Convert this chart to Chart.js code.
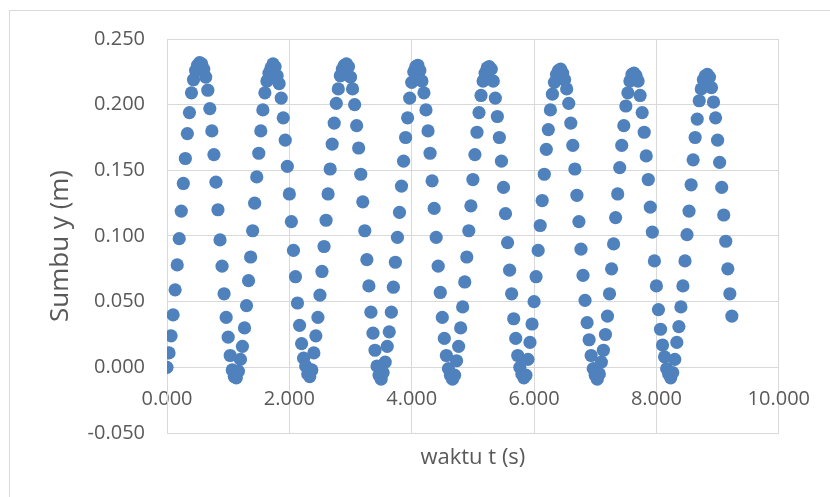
<!DOCTYPE html>
<html>
<head>
<meta charset="utf-8">
<script src="https://cdn.jsdelivr.net/npm/chart.js@4.4.1/dist/chart.umd.min.js"></script>
<style>
  html, body { margin: 0; padding: 0; background: #fff; overflow: hidden; }
  #wrap { position: relative; width: 830px; height: 497px; }
  #frame { position: absolute; left: 9px; top: 10px; width: 840px; height: 500px; border: 1px solid #d9d9d9; box-sizing: border-box; }
  #chart { position: absolute; left: 0; top: 0; }
</style>
</head>
<body>
<div id="wrap">
  <div id="frame"></div>
  <canvas id="chart" width="830" height="497"></canvas>
</div>
<script>
// waktu tiap frame (s)
const waktuT = [
  0.000, 0.033, 0.067, 0.100, 0.133, 0.167, 0.200, 0.233, 0.267, 0.300, 0.333, 0.367, 0.400, 0.433, 0.467, 0.500, 0.533, 0.567, 0.600, 0.633, 0.667, 0.700, 0.733, 0.767, 0.800, 0.833, 0.867, 0.900, 0.933, 0.967,
  1.000, 1.033, 1.067, 1.100, 1.133, 1.167, 1.200, 1.233, 1.267, 1.300, 1.333, 1.367, 1.400, 1.433, 1.467, 1.500, 1.533, 1.567, 1.600, 1.633, 1.667, 1.700, 1.733, 1.767, 1.800, 1.833, 1.867, 1.900, 1.933, 1.967,
  2.000, 2.033, 2.067, 2.100, 2.133, 2.167, 2.200, 2.233, 2.267, 2.300, 2.333, 2.367, 2.400, 2.433, 2.467, 2.500, 2.533, 2.567, 2.600, 2.633, 2.667, 2.700, 2.733, 2.767, 2.800, 2.833, 2.867, 2.900, 2.933, 2.967,
  3.000, 3.033, 3.067, 3.100, 3.133, 3.167, 3.200, 3.233, 3.267, 3.300, 3.333, 3.367, 3.400, 3.433, 3.467, 3.500, 3.533, 3.567, 3.600, 3.633, 3.667, 3.700, 3.733, 3.767, 3.800, 3.833, 3.867, 3.900, 3.933, 3.967,
  4.000, 4.033, 4.067, 4.100, 4.133, 4.167, 4.200, 4.233, 4.267, 4.300, 4.333, 4.367, 4.400, 4.433, 4.467, 4.500, 4.533, 4.567, 4.600, 4.633, 4.667, 4.700, 4.733, 4.767, 4.800, 4.833, 4.867, 4.900, 4.933, 4.967,
  5.000, 5.033, 5.067, 5.100, 5.133, 5.167, 5.200, 5.233, 5.267, 5.300, 5.333, 5.367, 5.400, 5.433, 5.467, 5.500, 5.533, 5.567, 5.600, 5.633, 5.667, 5.700, 5.733, 5.767, 5.800, 5.833, 5.867, 5.900, 5.933, 5.967,
  6.000, 6.033, 6.067, 6.100, 6.133, 6.167, 6.200, 6.233, 6.267, 6.300, 6.333, 6.367, 6.400, 6.433, 6.467, 6.500, 6.533, 6.567, 6.600, 6.633, 6.667, 6.700, 6.733, 6.767, 6.800, 6.833, 6.867, 6.900, 6.933, 6.967,
  7.000, 7.033, 7.067, 7.100, 7.133, 7.167, 7.200, 7.233, 7.267, 7.300, 7.333, 7.367, 7.400, 7.433, 7.467, 7.500, 7.533, 7.567, 7.600, 7.633, 7.667, 7.700, 7.733, 7.767, 7.800, 7.833, 7.867, 7.900, 7.933, 7.967,
  8.000, 8.033, 8.067, 8.100, 8.133, 8.167, 8.200, 8.233, 8.267, 8.300, 8.333, 8.367, 8.400, 8.433, 8.467, 8.500, 8.533, 8.567, 8.600, 8.633, 8.667, 8.700, 8.733, 8.767, 8.800, 8.833, 8.867, 8.900, 8.933, 8.967,
  9.000, 9.033, 9.067, 9.100, 9.133, 9.167, 9.200, 9.233
];

// posisi y (m)
const posisiY = [
  0.000, 0.011, 0.024, 0.040, 0.059, 0.078, 0.098, 0.119, 0.140, 0.159, 0.178, 0.194, 0.209, 0.219, 0.226, 0.230, 0.232,
  0.231, 0.227, 0.221, 0.211, 0.197, 0.180, 0.162, 0.141, 0.120, 0.097, 0.077, 0.056, 0.038, 0.023, 0.009,
  -0.002, -0.007, -0.008, -0.003,
  0.006, 0.016, 0.030, 0.047, 0.066, 0.084, 0.104, 0.125, 0.145, 0.163, 0.180, 0.196, 0.209, 0.218, 0.224, 0.228, 0.231,
  0.229, 0.222, 0.216, 0.205, 0.190, 0.173, 0.153, 0.132, 0.111, 0.089, 0.069, 0.049, 0.032, 0.018, 0.007,
  0.001, -0.005, -0.007, -0.002,
  0.011, 0.024, 0.038, 0.055, 0.073, 0.092, 0.112, 0.132, 0.151, 0.170, 0.186, 0.201, 0.212, 0.222, 0.227, 0.230, 0.231,
  0.229, 0.221, 0.212, 0.200, 0.184, 0.167, 0.147, 0.126, 0.104, 0.082, 0.062, 0.042, 0.026, 0.013, 0.001,
  -0.006, -0.009, -0.004,
  0.004, 0.016, 0.027, 0.042, 0.061, 0.080, 0.099, 0.118, 0.138, 0.157, 0.175, 0.190, 0.205, 0.217, 0.225, 0.229, 0.230,
  0.226, 0.218, 0.209, 0.196, 0.180, 0.163, 0.142, 0.121, 0.099, 0.077, 0.057, 0.038, 0.022, 0.009,
  -0.001, -0.006, -0.009, -0.006,
  0.005, 0.016, 0.030, 0.046, 0.065, 0.084, 0.104, 0.123, 0.143, 0.162, 0.179, 0.194, 0.207, 0.218, 0.224, 0.228, 0.229,
  0.227, 0.218, 0.205, 0.191, 0.175, 0.157, 0.137, 0.117, 0.095, 0.074, 0.056, 0.037, 0.022, 0.009, 0.000,
  -0.005, -0.008, -0.006,
  0.006, 0.019, 0.033, 0.050, 0.069, 0.089, 0.108, 0.127, 0.147, 0.166, 0.181, 0.196, 0.208, 0.217, 0.223, 0.226, 0.227,
  0.224, 0.219, 0.212, 0.201, 0.186, 0.169, 0.151, 0.131, 0.111, 0.090, 0.070, 0.051, 0.034, 0.021, 0.009,
  -0.001, -0.006, -0.009, -0.005,
  0.004, 0.013, 0.025, 0.039, 0.056, 0.075, 0.094, 0.114, 0.132, 0.152, 0.169, 0.184, 0.199, 0.209, 0.218, 0.223, 0.224,
  0.222, 0.218, 0.207, 0.194, 0.179, 0.161, 0.143, 0.122, 0.103, 0.081, 0.062, 0.044, 0.029, 0.017, 0.008,
  -0.001, -0.005, -0.008, -0.004,
  0.006, 0.019, 0.031, 0.046, 0.062, 0.081, 0.101, 0.119, 0.139, 0.158, 0.175, 0.189, 0.203, 0.212, 0.219, 0.222, 0.223,
  0.221, 0.213, 0.202, 0.190, 0.173, 0.156, 0.137, 0.116, 0.096, 0.075, 0.056, 0.039
];

const xTicks = [0, 2, 4, 6, 8, 10];
const yTicks = [-0.05, 0, 0.05, 0.1, 0.15, 0.2, 0.25];

const textColor = '#595959';
const gridColor = '#d9d9d9';
const fontFamily = '"Open Sans", "Liberation Sans", sans-serif';

const points = waktuT.map((t, i) => ({ x: t, y: posisiY[i] }));

// judul kedua sumbu digambar sendiri (sumbu x duduk di y = 0)
const judulSumbu = {
  id: 'judulSumbu',
  afterDraw(chart) {
    const { ctx, chartArea } = chart;
    ctx.save();
    ctx.fillStyle = textColor;
    ctx.textAlign = 'center';
    ctx.textBaseline = 'middle';
    ctx.font = '22px ' + fontFamily;
    ctx.fillText('waktu t (s)', (chartArea.left + chartArea.right) / 2, chartArea.bottom + 25);
    ctx.translate(61, (chartArea.top + chartArea.bottom) / 2 + 10);
    ctx.rotate(-Math.PI / 2);
    ctx.font = '26px ' + fontFamily;
    ctx.fillText('Sumbu y (m)', 0, 0);
    ctx.restore();
  }
};

const ctx = document.getElementById('chart').getContext('2d');
new Chart(ctx, {
  type: 'scatter',
  data: {
    datasets: [{
      label: 'y',
      data: points,
      backgroundColor: '#4F81BD',
      borderWidth: 0,
      pointRadius: 6.6,
      pointHoverRadius: 6.6
    }]
  },
  options: {
    responsive: false,
    animation: false,
    events: [],
    layout: { padding: { left: 0, right: 50, top: 39, bottom: 64 } },
    plugins: {
      legend: { display: false },
      tooltip: { enabled: false }
    },
    scales: {
      x: {
        type: 'linear',
        position: { y: 0 },
        min: 0,
        max: 10,
        afterBuildTicks: s => { s.ticks = xTicks.map(v => ({ value: v })); },
        afterFit: s => { s.height = 0; },
        ticks: {
          color: textColor,
          font: { family: fontFamily, size: 20 },
          padding: 20,
          maxRotation: 0,
          callback: v => Number(v).toFixed(3)
        },
        grid: { color: gridColor, lineWidth: 1, drawTicks: false },
        border: { display: false }
      },
      y: {
        type: 'linear',
        position: 'left',
        min: -0.05,
        max: 0.25,
        afterBuildTicks: s => { s.ticks = yTicks.map(v => ({ value: v })); },
        afterFit: s => { s.width = 167; },
        ticks: {
          color: textColor,
          font: { family: fontFamily, size: 20 },
          padding: 22,
          callback: v => Number(v).toFixed(3)
        },
        grid: { color: gridColor, lineWidth: 1, drawTicks: false },
        border: { color: gridColor }
      }
    }
  },
  plugins: [judulSumbu]
});
</script>
</body>
</html>
